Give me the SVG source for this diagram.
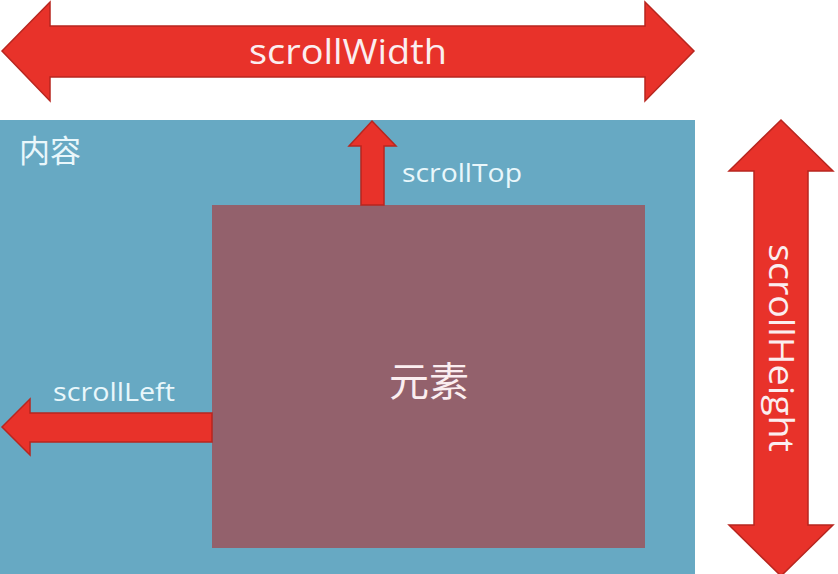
<svg xmlns="http://www.w3.org/2000/svg" width="838" height="574" viewBox="0 0 838 574">
<style>
.arrow{fill:#e8322a;stroke:#b8261f;stroke-width:1.5;stroke-linejoin:miter}
.lbl{font-family:"Open Sans","Liberation Sans",sans-serif;fill:#e9f7fb}
.big{font-family:"Open Sans","Liberation Sans",sans-serif;fill:#fbeef0}
.cjk{font-family:"Noto Sans CJK SC","Noto Sans",sans-serif}
</style>
<rect width="838" height="574" fill="#ffffff"/>
<g id="content">
<rect x="0" y="120" width="695" height="454" fill="#67a9c3"/>
<text class="lbl cjk" x="19" y="162" font-size="31">内容</text>
</g>
<g id="element">
<rect x="212" y="205" width="433" height="343" fill="#93616c"/>
<text class="big cjk" x="429" y="396" font-size="40" text-anchor="middle" fill="#fbeef0">元素</text>
</g>
<g id="connectors">
<g id="scrollWidth">
<polygon class="arrow" points="2,51 50,2 50,26 645,26 645,2 694,51 645,101 645,77 50,77 50,101"/>
<text class="big" x="348" y="64" font-size="34" text-anchor="middle" textLength="198" lengthAdjust="spacingAndGlyphs" fill="#fbeef2">scrollWidth</text>
</g>
<g id="scrollHeight">
<polygon class="arrow" points="781,120 833,171 808,171 808,525 833,525 781,576 729,525 754,525 754,171 729,171"/>
<text class="big" transform="translate(769,348) rotate(90)" x="0" y="0" font-size="34" text-anchor="middle" textLength="208" lengthAdjust="spacingAndGlyphs" fill="#fbeef2">scrollHeight</text>
</g>
<g id="scrollTop">
<polygon class="arrow" points="372,121 396,146 384,146 384,205 361,205 361,146 349,146"/>
<text class="lbl" x="402" y="182" font-size="26" textLength="120" lengthAdjust="spacingAndGlyphs">scrollTop</text>
</g>
<g id="scrollLeft">
<polygon class="arrow" points="2,427 30,399 30,413 212,413 212,442 30,442 30,455"/>
<text class="lbl" x="53" y="401" font-size="26" textLength="122" lengthAdjust="spacingAndGlyphs">scrollLeft</text>
</g>
</g>
</svg>
